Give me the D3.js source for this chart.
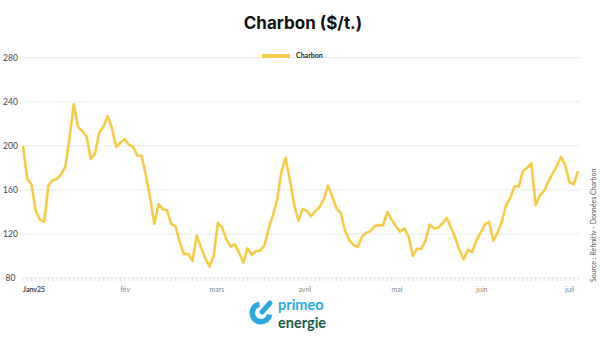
<!DOCTYPE html>
<html>
<head>
<meta charset="utf-8">
<script src="https://cdn.jsdelivr.net/npm/d3@7"></script>
<style>
  body { margin: 0; background: #fff; }
  svg { display: block; font-family: "Lato", "Open Sans", sans-serif; }
</style>
</head>
<body>
<svg id="chart" width="600" height="338"></svg>
<script>
// coal price, one value per trading day, Jan 2025 -> early Jul 2025
const prices = [
  200, 170, 165, 141, 133, 131, 164, 168.5, 170, 174,
  181, 208, 238, 217, 213.5, 208.5, 188, 193, 212, 217.5,
  227, 216, 199, 203, 206, 201, 199, 191, 191, 173.5,
  153, 129, 147, 142.5, 141.5, 129, 127, 112.7, 101.5, 102,
  95.5, 118.5, 108, 98, 90.5, 100, 130, 126, 115, 108.5,
  110.5, 103, 94, 107, 101, 104.2, 105, 109.5, 125, 137,
  151, 177, 189, 168.5, 147, 132, 142.5, 141, 136, 141,
  144.5, 151.5, 164, 154, 143, 139, 123, 114.5, 110, 108,
  117.5, 121, 122.5, 127, 128, 128, 140, 133, 127, 122,
  125, 118, 100, 106.5, 106.5, 114, 128.5, 125, 125.7, 129.5,
  134.5, 126, 116.5, 105.5, 97, 105.5, 103.5, 114, 121, 128.5,
  131, 114, 121, 131, 146, 152.5, 163.3, 163, 177, 180,
  184, 146, 155, 159, 167.3, 175, 181.5, 190, 182, 167,
  165, 177
];

// month labels and the trading-day index where each one starts
const monthLabels = ["Janv25", "fév", "mars", "avril", "mai", "juin", "juil"];
const monthIndex = [0, 23, 44, 65, 87, 107, 128];

const yTicks = [80, 120, 160, 200, 240, 280];

const title = "Charbon ($/t.)";
const seriesName = "Charbon";
const source = "Source : Refinitiv - Données Charbon";

const lineColor = "#f7cb45";

const svg = d3.select("#chart");

const margin = { top: 58, right: 22, bottom: 60, left: 23 };
const width = 600;
const height = 338;

const x = d3
  .scaleLinear()
  .domain([0, prices.length - 1])
  .range([margin.left, width - margin.right]);

const y = d3
  .scaleLinear()
  .domain([80, 280])
  .range([height - margin.bottom, margin.top - 0.3]);

// title
svg
  .append("text")
  .attr("x", 303)
  .attr("y", 29)
  .attr("text-anchor", "middle")
  .attr("font-family", "Inter, sans-serif")
  .attr("font-weight", 700)
  .attr("font-size", 17)
  .attr("fill", "#111")
  .text(title);

// gridlines + y labels
const grid = svg.append("g").attr("class", "y-grid");
grid
  .selectAll("line")
  .data(yTicks)
  .join("line")
  .attr("x1", margin.left)
  .attr("x2", width - margin.right + 2)
  .attr("y1", (d) => y(d))
  .attr("y2", (d) => y(d))
  .attr("stroke", "#ebebeb")
  .attr("stroke-width", 1);

grid
  .selectAll("text")
  .data(yTicks)
  .join("text")
  .attr("x", 10.5)
  .attr("y", (d) => y(d))
  .attr("dy", "0.35em")
  .attr("text-anchor", "middle")
  .attr("font-size", 8.5)
  .attr("fill", "#444")
  .text((d) => d);

// small ticks along the bottom, one per trading day
svg
  .append("g")
  .attr("class", "x-minor")
  .selectAll("line")
  .data(d3.range(prices.length))
  .join("line")
  .attr("x1", (d) => x(d))
  .attr("x2", (d) => x(d))
  .attr("y1", y(80))
  .attr("y2", y(80) + 3)
  .attr("stroke", "#dcdcdc")
  .attr("stroke-width", 1);

// month labels
svg
  .append("g")
  .attr("class", "x-axis")
  .selectAll("text")
  .data(monthLabels)
  .join("text")
  .attr("x", (d, i) => x(monthIndex[i]))
  .attr("y", 292)
  .attr("font-size", 7)
  .attr("font-weight", (d, i) => (i === 0 ? 700 : 400))
  .attr("fill", (d, i) => (i === 0 ? "#444" : "#888"))
  .text((d) => d);

// price line
const line = d3
  .line()
  .x((d, i) => x(i))
  .y((d) => y(d));

svg
  .append("path")
  .datum(prices)
  .attr("class", "line-path")
  .attr("fill", "none")
  .attr("stroke", lineColor)
  .attr("stroke-width", 2.6)
  .attr("stroke-linejoin", "round")
  .attr("d", line);

// legend
const legend = svg.append("g").attr("class", "legend");
legend
  .append("line")
  .attr("x1", 262)
  .attr("x2", 290)
  .attr("y1", 56)
  .attr("y2", 56)
  .attr("stroke", lineColor)
  .attr("stroke-width", 4);
legend
  .append("text")
  .attr("x", 296)
  .attr("y", 56)
  .attr("dy", "0.35em")
  .attr("font-size", 7)
  .attr("font-weight", 700)
  .attr("fill", "#222")
  .text(seriesName);

// source, vertical on the right
svg
  .append("text")
  .attr("transform", "translate(596,282) rotate(-90)")
  .attr("font-size", 7)
  .attr("fill", "#555")
  .text(source);

// primeo energie logo
const logo = svg.append("g").attr("class", "logo");
const arc = d3
  .arc()
  .innerRadius(6)
  .outerRadius(11.5)
  .startAngle((100 * Math.PI) / 180)
  .endAngle((350 * Math.PI) / 180);
logo
  .append("path")
  .attr("transform", "translate(261,313)")
  .attr("d", arc())
  .attr("fill", "#29a9e1");
logo
  .append("line")
  .attr("x1", 262)
  .attr("y1", 312)
  .attr("x2", 270)
  .attr("y2", 303)
  .attr("stroke", "#29a9e1")
  .attr("stroke-width", 5)
  .attr("stroke-linecap", "round");
logo
  .append("text")
  .attr("x", 278)
  .attr("y", 310)
  .attr("font-size", 14.5)
  .attr("font-weight", 700)
  .attr("fill", "#29a9e1")
  .text("primeo");
logo
  .append("text")
  .attr("x", 278)
  .attr("y", 327.5)
  .attr("font-size", 14.5)
  .attr("font-weight", 700)
  .attr("fill", "#185c45")
  .text("energie");
</script>
</body>
</html>
